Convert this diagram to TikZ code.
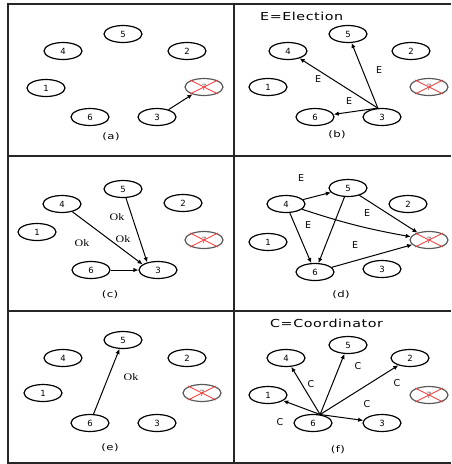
\documentclass[tikz,border=0pt]{standalone}
\usepackage{fontspec}
\setmainfont{DejaVu Sans}
\newfontfamily\spacedfont{DejaVu Sans}[FakeStretch=1.3, LetterSpace=5]
\newfontfamily\okfont{Liberation Serif}[FakeStretch=1.2]
\usetikzlibrary{arrows.meta,shapes.geometric}

\tikzset{
  proc/.style={ellipse, draw, line width=1.2pt, minimum width=38pt, minimum height=17pt, inner sep=0pt, font=\fontsize{8.5}{9}\selectfont},
  crashed/.style={proc, draw=black!65, text=black!55},
  msg/.style={-{Latex[length=5pt,width=4.5pt]}, line width=1pt},
  msglabel/.style={font=\fontsize{9.5}{10}\selectfont, inner sep=0pt},
  oklabel/.style={font=\okfont\fontsize{10}{11}\selectfont, inner sep=0pt},
  caption/.style={font=\spacedfont\fontsize{9}{10}\selectfont, inner sep=0pt},
  legend/.style={font=\spacedfont\fontsize{11}{12}\selectfont, inner sep=0pt, anchor=west},
  gridline/.style={line width=1.4pt, black!85}
}
\newcommand{\crashmark}[1]{\draw[red!80, line width=0.8pt] (#1.center) ++(-14,-7) -- ++(28,14) ++(0,-14) -- ++(-28,14);}

\begin{document}
\begin{tikzpicture}[x=1pt, y=-1pt]
    \useasboundingbox (0,0) rectangle (451,464);
    % frame of the six panels
    \draw[gridline] (451,4) -- (8,4) -- (8,463) -- (451,463);
    \draw[gridline] (234,4) -- (234,463);
    \draw[gridline] (8,156) -- (451,156);
    \draw[gridline] (8,311) -- (451,311);

    % (a) 3 notices 7 is down
    \foreach \n/\x/\y in {5/123/34, 4/63/51, 2/187/51, 1/46/88, 6/90/117, 3/157/117}
        \node[proc] (a\n) at (\x,\y) {\n};
    \node[crashed] (a7) at (204,87) {7};
    \crashmark{a7}
    \node[caption] (acap) at (111,137) {(a)};
    \draw[msg] (a3) -- (a7);

    % (b) 3 sends election
    \node[legend] (blegend) at (260,16) {E=Election};
    \foreach \n/\x/\y in {5/348/34, 4/288/51, 2/411/51, 1/268/87, 6/315/117, 3/382/117}
        \node[proc] (b\n) at (\x,\y) {\n};
    \node[crashed] (b7) at (429,87) {7};
    \crashmark{b7}
    \node[caption] (bcap) at (337,135) {(b)};
    \coordinate (bsrc) at (b3.115);
    \draw[msg] (bsrc) -- (b4);
    \draw[msg] (bsrc) -- (b5);
    \draw[msg] (bsrc) -- (b6);
    \node[msglabel] (bl1) at (318,79) {E};
    \node[msglabel] (bl2) at (379,70) {E};
    \node[msglabel] (bl3) at (349,101) {E};

    % (c) answers
    \foreach \n/\x/\y in {5/123/189, 4/62/204, 2/183/203, 1/37/232, 6/91/270, 3/158/270}
        \node[proc] (c\n) at (\x,\y) {\n};
    \node[crashed] (c7) at (204,240) {7};
    \crashmark{c7}
    \node[caption] (ccap) at (110,295) {(c)};
    \draw[msg] (c4) -- (c3.160);
    \draw[msg] (c5) -- (c3.145);
    \draw[msg] (c6) -- (c3);
    \node[oklabel] (cl1) at (117,217) {Ok};
    \node[oklabel] (cl2) at (82,243) {Ok};
    \node[oklabel] (cl3) at (123,239) {Ok};

    % (d) 4 and 5 go on
    \node[msglabel] (dl0) at (301,178) {E};
    \foreach \n/\x/\y in {5/348/188, 4/286/204, 2/408/204, 1/268/242, 6/315/272, 3/382/269}
        \node[proc] (d\n) at (\x,\y) {\n};
    \node[crashed] (d7) at (429,240) {7};
    \crashmark{d7}
    \node[caption] (dcap) at (341,295) {(d)};
    \draw[msg] (d4) -- (d5);
    \draw[msg] (d4) to[bend right=4] (d7);
    \draw[msg] (d4) -- (d6);
    \draw[msg] (d5) -- (d6);
    \draw[msg] (d5) -- (d7);
    \draw[msg] (d6) -- (d7);
    \node[msglabel] (dl1) at (308,225) {E};
    \node[msglabel] (dl2) at (367,213) {E};
    \node[msglabel] (dl3) at (355,245) {E};

    % (e)
    \foreach \n/\x/\y in {5/123/340, 4/63/358, 2/187/358, 1/43/393, 6/90/423, 3/157/423}
        \node[proc] (e\n) at (\x,\y) {\n};
    \node[crashed] (e7) at (202,393) {7};
    \crashmark{e7}
    \node[caption] (ecap) at (110,448) {(e)};
    \draw[msg] (e6) -- (e5);
    \node[oklabel] (el1) at (131,377) {Ok};

    % (f) 6 is the new coordinator
    \node[legend] (flegend) at (270,323) {C=Coordinator};
    \foreach \n/\x/\y in {5/348/345, 4/286/358, 2/410/358, 1/268/395, 6/313/423, 3/382/423}
        \node[proc] (f\n) at (\x,\y) {\n};
    \node[crashed] (f7) at (429,395) {7};
    \crashmark{f7}
    \node[caption] (fcap) at (338,450) {(f)};
    \coordinate (fsrc) at (f6.50);
    \draw[msg] (fsrc) -- (f4);
    \draw[msg] (fsrc) -- (f5);
    \draw[msg] (fsrc) -- (f2);
    \draw[msg] (fsrc) -- (f1);
    \draw[msg] (fsrc) -- (f3);
    \node[msglabel] (fl1) at (311,384) {C};
    \node[msglabel] (fl2) at (358,366) {C};
    \node[msglabel] (fl3) at (397,383) {C};
    \node[msglabel] (fl4) at (367,404) {C};
    \node[msglabel] (fl5) at (280,422) {C};
\end{tikzpicture}
\end{document}
